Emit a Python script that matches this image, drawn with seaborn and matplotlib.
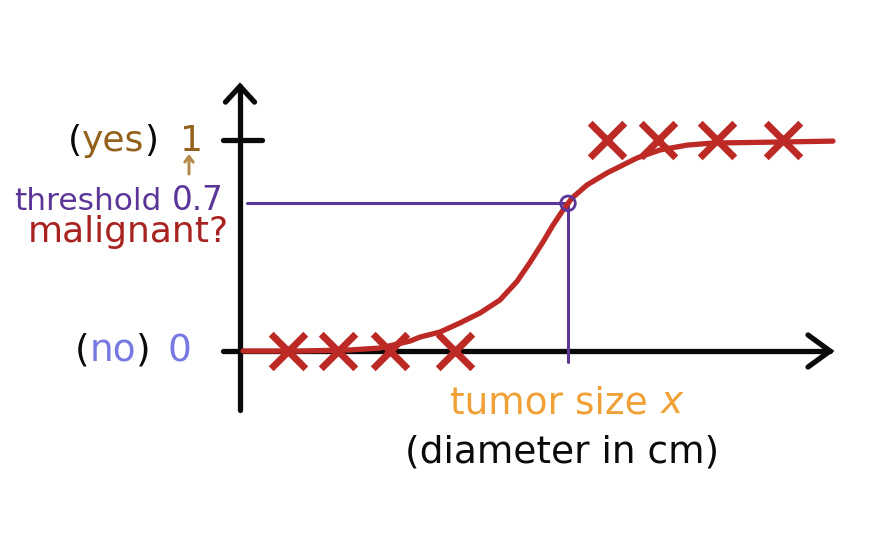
import matplotlib
matplotlib.use("Agg")
import matplotlib.pyplot as plt
import matplotlib.patches as mpatches
import seaborn as sns
import pandas as pd

# ---------------- data ----------------
# tumor size (arbitrary units) of benign (y=0) and malignant (y=1) examples
benign_x = [0.95, 1.95, 3.0, 4.3]
malignant_x = [7.34, 8.36, 9.54, 10.86]
benign_y = [0, 0, 0, 0]
malignant_y = [1, 1, 1, 1]

# hand drawn logistic curve
curve_x = [0.06, 1.2, 2.2, 2.8, 3.4, 3.6, 4.0, 4.4, 4.8, 5.2, 5.54, 5.8, 6.06, 6.26,
           6.46, 6.64, 6.94, 7.34, 7.94, 8.4, 8.94, 9.46, 10.6, 11.86]
curve_y = [0.0, 0.0, 0.005, 0.014, 0.047, 0.066, 0.09, 0.133, 0.18, 0.242, 0.33, 0.42,
           0.517, 0.597, 0.668, 0.725, 0.787, 0.844, 0.915, 0.953, 0.976, 0.986, 0.99, 0.995]

threshold = 0.7
threshold_x = 6.56

# ---------------- figure ----------------
sns.set_theme(style="white")
plt.rcParams['font.family'] = ['DejaVu Sans']

W, H = 880, 536
fig = plt.figure(figsize=(W / 100, H / 100), dpi=100)
fig.patch.set_facecolor("white")
ax = fig.add_axes([0, 0, 1, 1])
ax.set_xlim(-4.8, 12.8)
ax.set_ylim(-0.877, 1.664)
ax.axis("off")

BLACK = "#0a0a0a"
RED = "#bd2a26"
PURPLE = "#5b3597"

# axes (hand drawn arrows)
axw = 3.8
ax.plot([0, 0], [-0.28, 1.255], color=BLACK, lw=axw, solid_capstyle="round")
ax.plot([-0.29, 0, 0.29], [1.18, 1.255, 1.18], color=BLACK, lw=axw, solid_capstyle="round", solid_joinstyle="miter")
ax.plot([-0.34, 11.8], [0, 0], color=BLACK, lw=axw, solid_capstyle="round")
ax.plot([11.36, 11.8, 11.36], [0.076, 0, -0.076], color=BLACK, lw=axw, solid_capstyle="round", solid_joinstyle="miter")
ax.plot([-0.34, 0.44], [1.0, 1.0], color=BLACK, lw=axw, solid_capstyle="round")

# threshold guide lines
thr = pd.DataFrame({"x": [0.14, threshold_x], "y": [threshold, threshold]})
sns.lineplot(data=thr, x="x", y="y", ax=ax, color=PURPLE, lw=2.2, sort=False, estimator=None)
thr_v = pd.DataFrame({"x": [threshold_x, threshold_x], "y": [threshold, -0.05]})
sns.lineplot(data=thr_v, x="x", y="y", ax=ax, color=PURPLE, lw=2.2, sort=False, estimator=None)

# logistic curve
curve = pd.DataFrame({"x": curve_x, "y": curve_y})
sns.lineplot(data=curve, x="x", y="y", ax=ax, color=RED, lw=3.8, sort=False, estimator=None,
             solid_capstyle="round", solid_joinstyle="round")

# threshold circle
sns.scatterplot(x=[threshold_x], y=[threshold], ax=ax, marker="o", s=110,
                facecolor="none", edgecolor=PURPLE, linewidth=2.0, zorder=5)

# training examples
pts = pd.DataFrame({"x": benign_x + malignant_x, "y": benign_y + malignant_y})
sns.scatterplot(data=pts, x="x", y="y", ax=ax, marker="x", s=620,
                color=RED, linewidth=5, zorder=6)

# ---------------- texts ----------------
renderer = fig.canvas.get_renderer()


def rich(px, py, pieces, size, **kw):
    """draw coloured pieces side by side, px/py in pixels (baseline)"""
    x = px
    for s, c in pieces:
        t = fig.text(x / W, 1 - py / H, s, color=c, fontsize=size,
                     va="baseline", ha="left", **kw)
        bb = t.get_window_extent(renderer=renderer)
        x += bb.width


BROWN = "#93611c"
BLUE = "#7878e2"
rich(68, 151, [("(", BLACK), ("yes", BROWN), (")", BLACK)], 26)
rich(180, 151, [("1", BROWN)], 26)
# small hand drawn arrow under the "1"
fig.add_artist(mpatches.FancyArrowPatch(
    (189 / W, 1 - 174 / H), (189 / W, 1 - 154 / H), transform=fig.transFigure,
    arrowstyle="->,head_length=4,head_width=3", color="#b48a4a", lw=2.2,
    shrinkA=0, shrinkB=0))
rich(14, 210, [("threshold", PURPLE)], 22.5)
rich(172, 210, [("0.7", PURPLE)], 23.5)
rich(28, 242, [("malignant?", "#a8221f")], 26)
rich(75, 361, [("(", BLACK), ("no", BLUE), (")", BLACK)], 27)
rich(167, 361, [("0", BLUE)], 27)
rich(450, 413, [("tumor size ", "#f0a035"), ("$x$", "#f0a035")], 27)
rich(405, 463, [("(diameter in cm)", BLACK)], 27)

fig.savefig("out.png", dpi=100, facecolor="white")
